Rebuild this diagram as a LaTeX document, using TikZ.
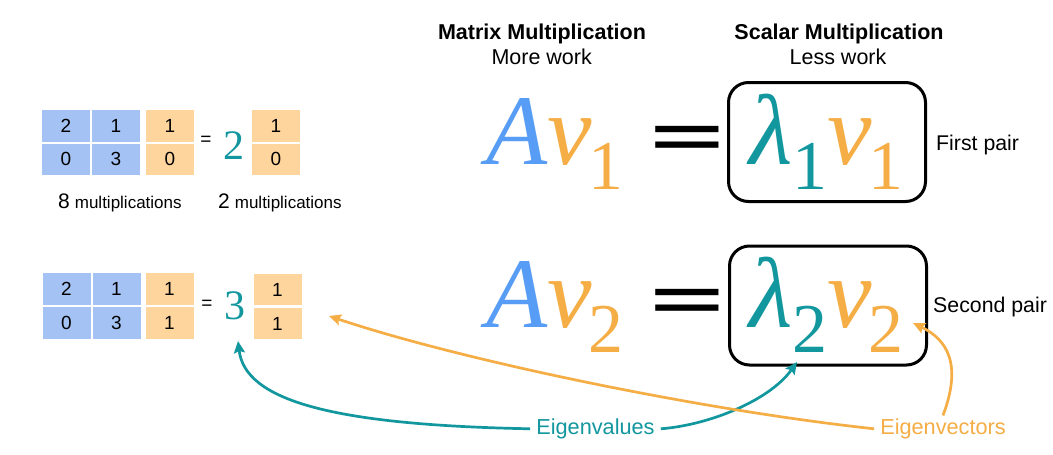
\documentclass[tikz,border=0pt]{standalone}
\usepackage{fontspec}
\setmainfont{Liberation Serif}
\setsansfont{Liberation Sans}
\renewcommand{\familydefault}{\sfdefault}
\usetikzlibrary{arrows.meta}
\definecolor{cellblue}{HTML}{A4C2F4}
\definecolor{cellorange}{HTML}{FFD59E}
\definecolor{ablue}{HTML}{589DF5}
\definecolor{vorange}{HTML}{F5AD45}
\definecolor{tealc}{HTML}{12979F}
\newcommand{\bigit}{\rmfamily\itshape\fontsize{100}{100}\selectfont}
\newcommand{\subup}{\rmfamily\upshape\fontsize{70}{70}\selectfont}
\begin{document}
\begin{tikzpicture}[x=1pt,y=-1pt,
  cell/.style={minimum width=48pt, minimum height=31.5pt, inner sep=0pt, font=\sffamily\fontsize{19}{19}\selectfont},
  bcell/.style={cell, fill=cellblue},
  ocell/.style={cell, fill=cellorange},
  hdr/.style={anchor=base, inner sep=0pt, font=\sffamily\bfseries\fontsize{21.5}{21.5}\selectfont},
  sub/.style={anchor=base, inner sep=0pt, font=\sffamily\fontsize{21.5}{21.5}\selectfont},
  side/.style={anchor=base west, inner sep=0pt, font=\sffamily\fontsize{21.3}{21.3}\selectfont},
  eqbox/.style={draw, line width=3pt, rounded corners=20pt, minimum width=197pt, minimum height=119pt},
  lab/.style={anchor=base, inner xsep=6pt, inner ysep=3pt, font=\sffamily\fontsize{21.7}{21.7}\selectfont},
  mult/.style={anchor=base west, inner sep=0pt, font=\sffamily},
  bigeq/.style={inner sep=0pt, font=\sffamily\bfseries\fontsize{126}{126}\selectfont},
  smalleq/.style={inner sep=0pt, font=\sffamily\fontsize{19}{19}\selectfont},
  scal/.style={inner sep=0pt, text=tealc, font=\rmfamily\upshape\fontsize{42}{42}\selectfont},
  formula/.style={anchor=base west, inner sep=0pt},
  arr/.style={line width=2.7pt, -{Stealth[length=12pt,width=11pt,inset=2pt]}}
]
\useasboundingbox[fill=white] (0,0) rectangle (1053,455);

% headers
\node[hdr] (h1) at (542,39.4) {Matrix Multiplication};
\node[sub] (s1) at (541.7,64.4) {More work};
\node[hdr] (h2) at (839,39.4) {Scalar Multiplication};
\node[sub] (s2) at (838,64.4) {Less work};

% row 1 matrices
\node[bcell] (m1a) at (66,125.8) {2};
\node[bcell] (m1b) at (116,125.8) {1};
\node[bcell] (m1c) at (66,159.3) {0};
\node[bcell] (m1d) at (116,159.3) {3};
\node[ocell] (v1a) at (170,125.8) {1};
\node[ocell] (v1b) at (170,159.3) {0};
\node[smalleq] (e1) at (206,141) {=};
\node[scal] (two) at (233.5,145.5) {2};
\node[ocell] (w1a) at (276,125.8) {1};
\node[ocell] (w1b) at (276,159.3) {0};
\node[mult] (c1) at (58,208.3) {{\fontsize{21}{21}\selectfont 8}\hspace{5pt}{\fontsize{17}{17}\selectfont multiplications}};
\node[mult] (c2) at (218,208.3) {{\fontsize{21}{21}\selectfont 2}\hspace{5pt}{\fontsize{17}{17}\selectfont multiplications}};

% row 2 matrices
\node[bcell] (m2a) at (66.5,289) {2};
\node[bcell] (m2b) at (116.5,289) {1};
\node[bcell] (m2c) at (66.5,323) {0};
\node[bcell] (m2d) at (116.5,323) {3};
\node[ocell] (v2a) at (169.5,289) {1};
\node[ocell] (v2b) at (169.5,323) {1};
\node[smalleq] (e2) at (207,305) {=};
\node[scal] (three) at (235,306) {3};
\node[ocell] (w2a) at (277.5,289.5) {1};
\node[ocell] (w2b) at (277.5,323.5) {1};

% big equations
\node[formula] (av1) at (486,164) {{\bigit\color{ablue}A}{\bigit\color{vorange}v}\kern-3pt\raisebox{-25pt}{\subup\color{vorange}1}};
\node[bigeq] (eqA) at (687.5,141) {\scalebox{1}[0.46]{=}};
\node[eqbox] (b1) at (827,142) {};
\node[formula] (lv1) at (749,164) {{\bigit\color{tealc}λ}\raisebox{-25pt}{\subup\color{tealc}1}{\bigit\color{vorange}v}\kern-3pt\raisebox{-25pt}{\subup\color{vorange}1}};
\node[side] (p1) at (936,150.8) {First pair};

\node[formula] (av2) at (486,327.3) {{\bigit\color{ablue}A}{\bigit\color{vorange}v}\kern-3pt\raisebox{-25pt}{\subup\color{vorange}2}};
\node[bigeq] (eqB) at (687.5,304) {\scalebox{1}[0.46]{=}};
\node[eqbox] (b2) at (828,305.5) {};
\node[formula] (lv2) at (749,327.3) {{\bigit\color{tealc}λ}\raisebox{-25pt}{\subup\color{tealc}2}{\bigit\color{vorange}v}\kern-3pt\raisebox{-25pt}{\subup\color{vorange}2}};
\node[side] (p2) at (933,312.5) {Second pair};

% labels
\node[lab, text=tealc] (evals) at (595.5,434.4) {Eigenvalues};
\node[lab, text=vorange] (evecs) at (943,434.4) {Eigenvectors};

% tips
\coordinate (t3) at (238,341);
\coordinate (l2) at (797,362);
\coordinate (vt) at (329,316);
\coordinate (v2t) at (913,323);

\draw[arr, tealc] (evals.west) .. controls (330,425) and (245,400) .. (t3);
\draw[arr, tealc] (evals.east) .. controls (710,425) and (770,400) .. (l2);
\draw[arr, vorange] (evecs.west) .. controls (700,410) and (460,360) .. (vt);
\draw[arr, vorange] (evecs.north) .. controls (962,365) and (948,340) .. (v2t);
\end{tikzpicture}
\end{document}
